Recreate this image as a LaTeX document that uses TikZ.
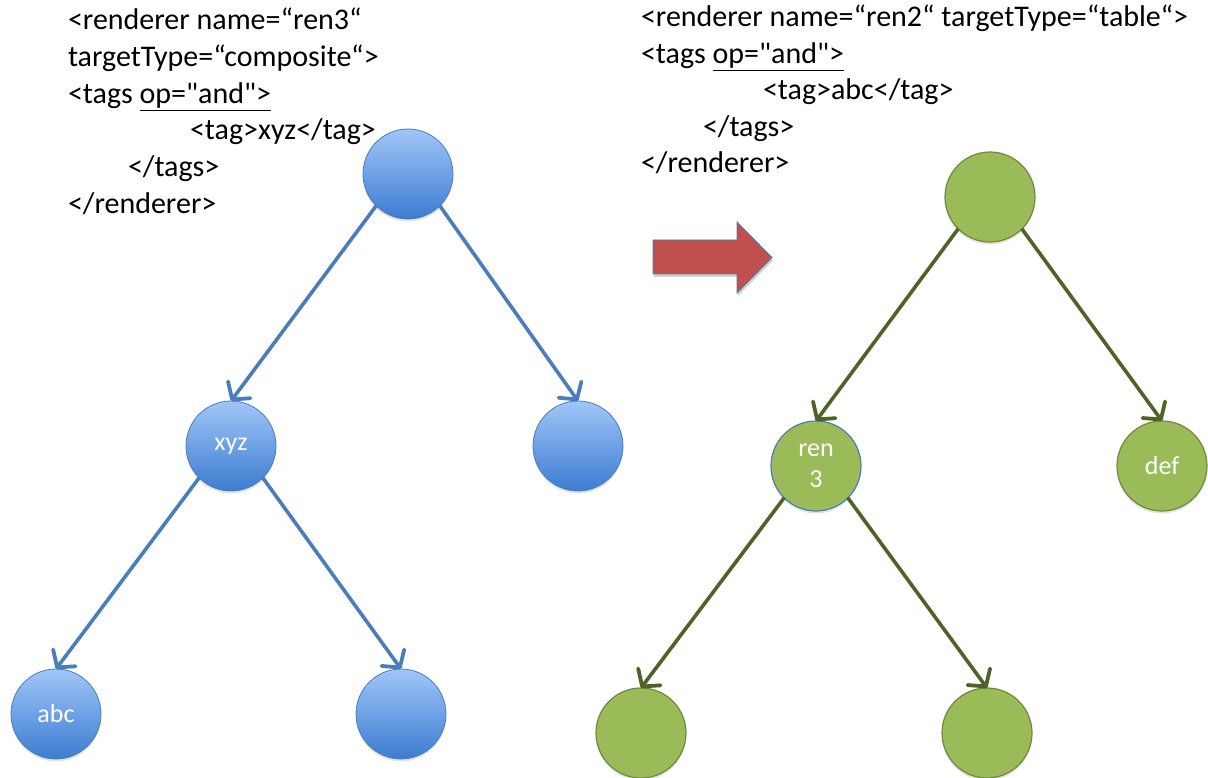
\documentclass[tikz,border=0pt]{standalone}
\usepackage{fontspec}
\setmainfont{Carlito}[Ligatures=TeXOff]
\usetikzlibrary{arrows.meta,shadows}
\definecolor{blueline}{RGB}{74,126,187}
\definecolor{greenfill}{RGB}{155,187,89}
\definecolor{greenline}{RGB}{79,98,40}
\definecolor{greenborder}{RGB}{113,137,63}
\definecolor{redfill}{RGB}{192,80,77}
\definecolor{bluetop}{RGB}{160,198,248}
\definecolor{bluebot}{RGB}{60,124,208}
\begin{document}
\begin{tikzpicture}[x=1pt,y=-1pt,
  every node/.style={inner sep=0pt,outer sep=0pt},
  code/.style={anchor=base west,font=\fontsize{30}{36}\selectfont,text=black},
  shad/.style={drop shadow={opacity=0.22,shadow xshift=0pt,shadow yshift=-2.5pt}},
  bnode/.style={circle,minimum size=90pt,draw=blueline,line width=0.8pt,
    top color=bluetop,bottom color=bluebot,text=white,
    font=\fontsize{26}{31}\selectfont,shad},
  gnode/.style={circle,minimum size=90pt,draw=greenborder,line width=1.2pt,
    fill=greenfill,text=white,align=center,
    font=\fontsize{26}{31}\selectfont,shad},
  tipv/.style={-{Straight Barb[length=12pt,width=28pt,line width=3.8pt,round]}},
  barr/.style={draw=blueline,line width=3.6pt,tipv},
  garr/.style={draw=greenline,line width=3.6pt,tipv}
]
\useasboundingbox (0,0) rectangle (1208,778);

% left code
\node[code] (c1) at (68,29.5) {<renderer name=“ren3“};
\node[code] (c2) at (68,66.5) {targetType=“composite“>};
\node[code] (c3) at (68,103.5) {<tags \underline{op="and">}};
\node[code] (c4) at (190,140) {<tag>xyz</tag>};
\node[code] (c5) at (128,177) {</tags>};
\node[code] (c6) at (68,213.5) {</renderer>};

% right code
\node[code] (d1) at (641,27) {<renderer name=“ren2“ targetType=“table“>};
\node[code] (d2) at (641,63.5) {<tags \underline{op="and">}};
\node[code] (d3) at (763,100) {<tag>abc</tag>};
\node[code] (d4) at (703,136.5) {</tags>};
\node[code] (d5) at (641,173) {</renderer>};

% blue tree
\node[bnode] (b1) at (408,174) {};
\node[bnode] (b2) at (231,446) {xyz};
\node[bnode] (b3) at (578,446) {};
\node[bnode] (b4) at (56,714) {abc};
\node[bnode] (b5) at (401,714) {};
\draw[barr] (b1.south west) -- (b2.north);
\draw[barr] (b1.south east) -- (b3.north);
\draw[barr] (b2.south west) -- (b4.north);
\draw[barr] (b2.south east) -- (b5.north);

% red block arrow
\fill[black,opacity=0.18] (654,243) -- (738,243) -- (738,225) -- (773,260.5) -- (738,296) -- (738,277) -- (654,277) -- cycle;
\draw[fill=redfill,draw=blueline,line width=0.8pt] (653,240) -- (737,240) -- (737,222) -- (772,257.5) -- (737,293) -- (737,274) -- (653,274) -- cycle;

% green tree
\node[gnode] (g1) at (990,197) {};
\node[gnode,draw=blueline] (g2) at (816,466) {ren\\3};
\node[gnode] (g3) at (1162,466) {def};
\node[gnode] (g4) at (641,733) {};
\node[gnode] (g5) at (987,733) {};
\draw[garr] (g1.south west) -- (g2.north);
\draw[garr] (g1.south east) -- (g3.north);
\draw[garr] (g2.south west) -- (g4.north);
\draw[garr] (g2.south east) -- (g5.north);
\end{tikzpicture}
\end{document}
